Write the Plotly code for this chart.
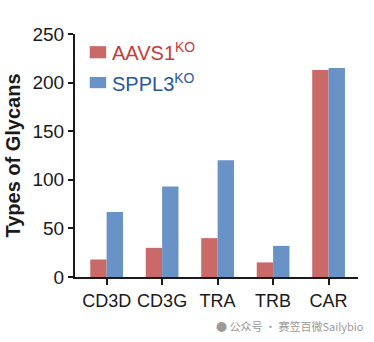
import plotly.graph_objects as go

categories = ["CD3D", "CD3G", "TRA", "TRB", "CAR"]
aavs1 = [18, 30, 40, 15, 213]
sppl3 = [67, 93, 120, 32, 215]
y_ticks = [0, 50, 100, 150, 200, 250]

RED = "#c96a68"
BLUE = "#6992c6"
FONT = "Liberation Sans, Arial"

fig = go.Figure()
fig.add_trace(go.Bar(x=categories, y=aavs1, name="AAVS1", marker=dict(color=RED, line=dict(width=0))))
fig.add_trace(go.Bar(x=categories, y=sppl3, name="SPPL3", marker=dict(color=BLUE, line=dict(width=0))))

fig.update_layout(
    width=374, height=342,
    margin=dict(l=70, r=16, t=34, b=65),
    plot_bgcolor="white", paper_bgcolor="white",
    barmode="group", bargap=0.41, bargroupgap=0.0,
    showlegend=False,
    font=dict(family=FONT, color="#1a1a1a"),
    xaxis=dict(
        range=[-0.57, 4.53], showline=True, linecolor="#1a1a1a", linewidth=2,
        ticks="outside", ticklen=6, tickwidth=2, tickcolor="#1a1a1a",
        tickfont=dict(size=18, family=FONT, color="#1a1a1a"),
        showgrid=False,
    ),
    yaxis=dict(
        range=[0, 250], tickvals=y_ticks, showline=True, linecolor="#1a1a1a", linewidth=2,
        ticks="outside", ticklen=5, tickwidth=2, tickcolor="#1a1a1a",
        tickfont=dict(size=19, family=FONT, color="#1a1a1a"),
        showgrid=False, zeroline=False,
        title=dict(text="<b>Types of Glycans</b>", font=dict(size=20, family=FONT, color="#1a1a1a"), standoff=6),
    ),
)

# legend drawn as shapes/annotations in paper coordinates
fig.add_shape(type="rect", xref="paper", yref="paper", x0=0.052, x1=0.11, y0=0.90, y1=0.95,
              fillcolor=RED, line=dict(width=0))
fig.add_shape(type="rect", xref="paper", yref="paper", x0=0.052, x1=0.11, y0=0.777, y1=0.823,
              fillcolor=BLUE, line=dict(width=0))
fig.add_annotation(xref="paper", yref="paper", x=0.125, y=0.93, xanchor="left", yanchor="middle",
                   text="AAVS1<sup>KO</sup>", showarrow=False,
                   font=dict(size=20, family=FONT, color="#c43c3c"))
fig.add_annotation(xref="paper", yref="paper", x=0.125, y=0.80, xanchor="left", yanchor="middle",
                   text="SPPL3<sup>KO</sup>", showarrow=False,
                   font=dict(size=20, family=FONT, color="#2957a4"))

# watermark
fig.add_annotation(xref="paper", yref="paper", x=1.03, y=-0.2, xanchor="right", yanchor="middle",
                   text="● 公众号 · 赛笠百微Sailybio", showarrow=False,
                   font=dict(size=11, family="Noto Sans CJK SC", color="#9a9a9a"))

fig.write_html("out.html")
